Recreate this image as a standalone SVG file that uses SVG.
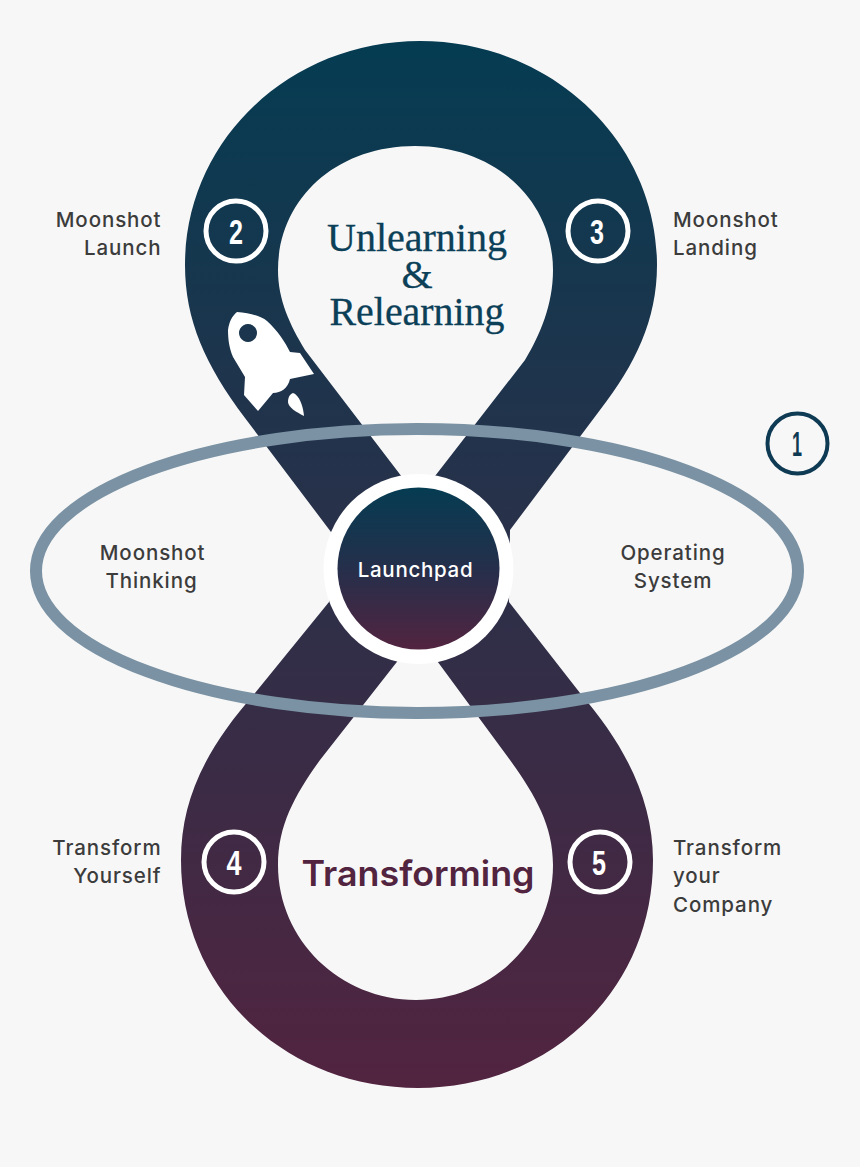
<svg xmlns="http://www.w3.org/2000/svg" width="860" height="1167" viewBox="0 0 860 1167">
<style>
.lbl{font-family:"Inter","Liberation Sans",sans-serif;font-size:20.500px;font-weight:500;letter-spacing:.9px;fill:#3c3c3c}
.num{font-family:"Liberation Sans",sans-serif;font-weight:700;font-size:35px;text-anchor:middle;fill:#fff}
.ser{font-family:"Liberation Serif",serif;font-size:40px;text-anchor:middle;fill:#0b4058;stroke:#0b4058;stroke-width:.3px}
.ring{fill:none;stroke:#fff;stroke-width:5}
</style>
<defs>
<linearGradient id="band" gradientUnits="userSpaceOnUse" x1="0" y1="41" x2="0" y2="1088"><stop offset="0" stop-color="#053c52"/><stop offset="1" stop-color="#522440"/></linearGradient>
<linearGradient id="hub" x1="0" y1="0" x2="0" y2="1"><stop offset="0" stop-color="#053c52"/><stop offset=".5" stop-color="#252f4b"/><stop offset="1" stop-color="#522440"/></linearGradient>
</defs>
<rect width="860" height="1167" fill="#f7f7f7"/>
<g id="figure-eight">
<path fill="url(#band)" fill-rule="evenodd" d="M420 41C550 41 657 140 657 265C657 320 635 365 600 410L510 530L509 602L580 693C625 745 653 800 653 860C653 990 550 1088 418 1088C285 1088 181 990 181 860C181 800 205 750 255 693L329 602L331 532L245 418C205 365 185 320 185 265C185 140 290 41 420 41Z
M415 146C335 146 278 200 278 270C278 300 290 325 305 350L418 498L525 360C540 335 553 305 553 270C553 200 495 146 415 146Z
M418 635L320 760C295 795 278 825 278 865C278 940 340 1000 416 1000C492 1000 553 940 553 865C553 825 535 795 510 760Z"/>
</g>
<g id="operating-ring"><ellipse cx="417" cy="571" rx="381" ry="142" fill="none" stroke="#7a92a3" stroke-width="12"/></g>
<g id="launchpad">
<circle cx="418.500" cy="569" r="95" fill="#fff"/>
<circle cx="418.500" cy="568.500" r="81" fill="url(#hub)"/>
<text x="415.500" y="577" font-family="Inter,'Liberation Sans',sans-serif" font-size="20.500" font-weight="500" letter-spacing=".7" text-anchor="middle" fill="#fff">Launchpad</text>
</g>
<g id="rocket">
<path fill="#fff" fill-rule="evenodd" d="M237 312C250 313 261 316 267 321C278 331 285 342 290 352L300 353L314 374L290 379C288 388 281 393 273 393L258 411L244 395L245 377L233 357C229 348 228 338 228 330C229 322 232 316 237 312ZM248 324a9 9 0 1 0 .01 0Z"/>
<path fill="#fff" d="M293 393C299 395 303 405 304 416C296 412 288 407 288 402C288 397 290 394 293 393Z"/>
</g>
<g id="step-1"><circle cx="797.500" cy="443.500" r="30" fill="none" stroke="#0e3a53" stroke-width="4"/><text x="797" y="456" class="num" style="fill:#0e3a53" textLength="10" lengthAdjust="spacingAndGlyphs">1</text></g>
<g id="step-2"><circle cx="236" cy="231" r="30" class="ring"/><text x="236" y="243.500" class="num" textLength="14" lengthAdjust="spacingAndGlyphs">2</text></g>
<g id="step-3"><circle cx="598" cy="231" r="30" class="ring"/><text x="597" y="243.500" class="num" textLength="14" lengthAdjust="spacingAndGlyphs">3</text></g>
<g id="step-4"><circle cx="234" cy="862" r="30" class="ring"/><text x="234" y="874.500" class="num" textLength="15" lengthAdjust="spacingAndGlyphs">4</text></g>
<g id="step-5"><circle cx="600" cy="862" r="30" class="ring"/><text x="599" y="874.500" class="num" textLength="14" lengthAdjust="spacingAndGlyphs">5</text></g>
<g id="unlearning">
<text x="417" y="251" class="ser" textLength="180" lengthAdjust="spacingAndGlyphs">Unlearning</text>
<text x="417" y="288" class="ser">&amp;</text>
<text x="417" y="325" class="ser" textLength="175" lengthAdjust="spacingAndGlyphs">Relearning</text>
</g>
<g id="transforming"><text x="418" y="886" font-family="Inter,'Liberation Sans',sans-serif" font-size="35" font-weight="600" text-anchor="middle" fill="#522440" textLength="233" lengthAdjust="spacingAndGlyphs">Transforming</text></g>
<g id="label-launch"><text x="161.500" y="227" text-anchor="end" class="lbl">Moonshot</text><text x="161.500" y="255" text-anchor="end" class="lbl">Launch</text></g>
<g id="label-landing"><text x="673" y="227" class="lbl">Moonshot</text><text x="673" y="255" class="lbl">Landing</text></g>
<g id="label-thinking"><text x="205.500" y="560" text-anchor="end" class="lbl">Moonshot</text><text x="197.500" y="588" text-anchor="end" class="lbl">Thinking</text></g>
<g id="label-os"><text x="673" y="560" text-anchor="middle" class="lbl">Operating</text><text x="673" y="588" text-anchor="middle" class="lbl">System</text></g>
<g id="label-yourself"><text x="161.500" y="855" text-anchor="end" class="lbl">Transform</text><text x="161.500" y="883" text-anchor="end" class="lbl">Yourself</text></g>
<g id="label-company"><text x="673" y="855" class="lbl">Transform</text><text x="673" y="883" class="lbl">your</text><text x="673" y="912" class="lbl">Company</text></g>
</svg>
